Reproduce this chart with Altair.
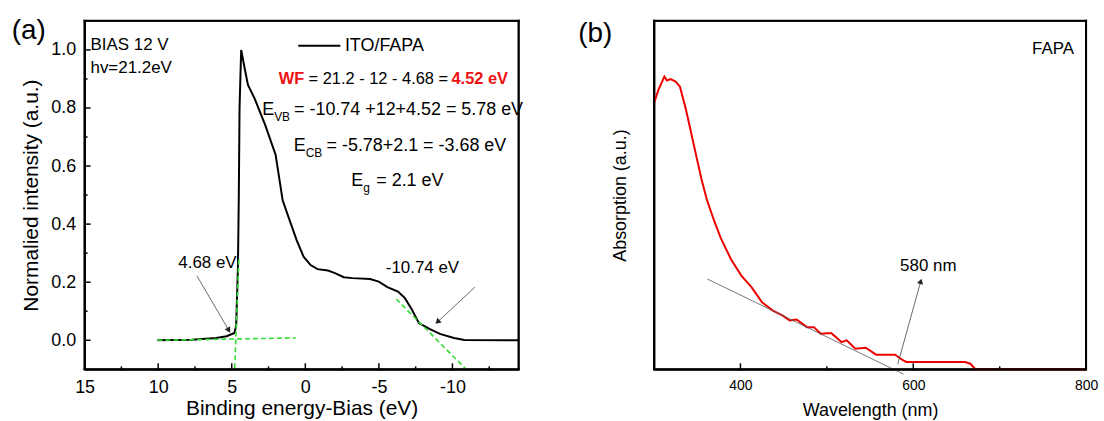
import math
import altair as alt
import pandas as pd

FONT = "Liberation Sans"

# ---------------- Panel (a): UPS spectrum ----------------
xps_be = [10.05, 7.72, 6.06, 5.35, 4.82, 4.70, 4.58, 4.52, 4.47, 4.36, 4.12, 3.90, 3.45,
          2.73, 2.02, 1.54, 1.07, 0.59, 0.12, -0.36, -0.83, -1.54, -2.02, -2.61, -3.21,
          -4.40, -4.99, -5.58, -6.30, -6.77, -7.25, -7.72, -8.44, -9.15, -10.10, -10.81, -14.5]
xps_int = [0.0, 0.002, 0.008, 0.014, 0.025, 0.05, 0.25, 0.5, 0.8, 1.0, 0.936, 0.879, 0.833,
           0.742, 0.639, 0.482, 0.414, 0.345, 0.288, 0.259, 0.245, 0.24, 0.231, 0.217, 0.214,
           0.211, 0.202, 0.183, 0.168, 0.145, 0.105, 0.059, 0.039, 0.022, 0.008, 0.001, 0.0]

fit_lines = [(10.05, 0.0, 0.64, 0.008),
             (4.52, 0.277, 4.80, -0.1),
             (-6.18, 0.142, -10.93, -0.1)]
arrows_a = [(7.37, 0.222, 5.23, 0.037),
            (-11.53, 0.183, -9.03, 0.065)]
label_a = [("4.68 eV", 6.65, 0.265), ("-10.74 eV", -7.96, 0.248)]

x_ticks_major = [10, 5, 0, -5, -10]
x_ticks_minor = [12.5, 7.5, 2.5, -2.5, -7.5, -12.5]
x_tick_labels = [15, 10, 5, 0, -5, -10]
y_ticks_major = [0.0, 0.2, 0.4, 0.6, 0.8, 1.0]
y_ticks_minor = [0.1, 0.3, 0.5, 0.7, 0.9]

# ---------------- Panel (b): UV-vis absorption ----------------
uv_wl = [300, 305, 312, 315, 319, 325, 330, 337, 343, 349, 355, 361, 369, 377, 389, 401, 413,
         425, 437, 449, 457, 465, 477, 485, 493, 505, 517, 523, 533, 545, 557, 579, 588, 592,
         660, 666, 672, 800]
uv_abs = [0.764, 0.802, 0.840, 0.829, 0.833, 0.826, 0.811, 0.745, 0.678, 0.611, 0.545, 0.488,
          0.430, 0.378, 0.316, 0.269, 0.235, 0.192, 0.169, 0.154, 0.140, 0.143, 0.121, 0.121,
          0.102, 0.104, 0.078, 0.083, 0.059, 0.062, 0.042, 0.042, 0.026, 0.021, 0.021, 0.016,
          0.0, 0.0]
tangent_b = (361.8, 0.259, 588.8, -0.014)
arrow_b = (582.0, 0.014, 608.4, 0.25)
wl_ticks_major = [400, 600]
wl_ticks_minor = [500, 700]
wl_tick_labels = [400, 600, 800]

W1, H = 436, 350
W2 = 434
XA = [-14.5, 15]
YA = [-0.1, 1.1]
XB = [300, 800]
YB = [0, 1]

xs_a = alt.Scale(domain=XA, reverse=True, nice=False, zero=False)
ys_a = alt.Scale(domain=YA, nice=False, zero=False)
xs_b = alt.Scale(domain=XB, nice=False, zero=False)
ys_b = alt.Scale(domain=YB, nice=False, zero=False)

ax_common = dict(ticks=False, tickSize=0, domain=True, domainColor="black", domainWidth=1.8,
                 grid=False, labelFont=FONT, labelColor="black", labelFlush=False,
                 labelOverlap=False, titleFont=FONT, titleFontWeight="normal",
                 titleColor="black")
axis_xa = alt.Axis(values=x_tick_labels, labelExpr="'' + datum.value", labelFontSize=18,
                   labelPadding=9, titleFontSize=21, titlePadding=1, **ax_common)
axis_ya = alt.Axis(values=y_ticks_major, format=".1f", labelFontSize=18, labelPadding=9,
                   titleFontSize=21, titlePadding=9, **ax_common)
axis_xb = alt.Axis(values=wl_tick_labels, format="d", labelFontSize=14, labelPadding=9,
                   titleFontSize=18, titlePadding=9, **ax_common)
axis_yb = alt.Axis(labels=False, titleFontSize=18, titlePadding=25, **ax_common)

TA_X, TA_Y = "Binding energy-Bias (eV)", "Normalied intensity (a.u.)"
TB_X, TB_Y = "Wavelength (nm)", "Absorption (a.u.)"


def XA_(f):
    return alt.X(f, scale=xs_a, axis=axis_xa, title=TA_X)


def YA_(f):
    return alt.Y(f, scale=ys_a, axis=axis_ya, title=TA_Y)


def XB_(f):
    return alt.X(f, scale=xs_b, axis=axis_xb, title=TB_X)


def YB_(f):
    return alt.Y(f, scale=ys_b, axis=axis_yb, title=TB_Y)


def head_angle(x0, y0, x1, y1, sx, sy):
    dxs = (x1 - x0) * sx
    dys = -(y1 - y0) * sy
    return math.degrees(math.atan2(dxs, -dys)) % 360


def seg_df(segs):
    return pd.DataFrame([{"x": a, "y": b, "x2": c, "y2": d} for a, b, c, d in segs])


def text_layer(txt, x, y, fx, fy, size=18, dx=0, dy=0, color="black", weight="normal",
               align="left"):
    return alt.Chart(pd.DataFrame({"x": [x], "y": [y], "t": [txt]})).mark_text(
        align=align, baseline="middle", fontSize=size, font=FONT, color=color,
        fontWeight=weight, dx=dx, dy=dy
    ).encode(x=fx("x:Q"), y=fy("y:Q"), text="t:N")


def frame_bands(w, h, t=1.0):
    # the plot box drawn as four thin filled bands (fills rather than strokes)
    one = pd.DataFrame({"d": [0]})
    bands = [(-t, w + t, -t, t), (-t, w + t, h - t, h + t),
             (-t, t, -t, h + t), (w - t, w + t, -t, h + t)]
    return [alt.Chart(one).mark_rect(color="black", opacity=1).encode(
        x=alt.value(a), x2=alt.value(b), y=alt.value(c), y2=alt.value(d))
        for a, b, c, d in bands]


# ---------- panel (a) layers ----------
ups_df = pd.DataFrame({"be": xps_be, "inten": xps_int, "i": range(len(xps_be))})
line_a = alt.Chart(ups_df).mark_line(color="black", strokeWidth=2).encode(
    x=XA_("be:Q"), y=YA_("inten:Q"), order="i:Q")

fits = alt.Chart(seg_df(fit_lines)).mark_rule(color="#33DD33", strokeWidth=1.6,
                                               strokeDash=[5, 3]).encode(
    x=XA_("x:Q"), y=YA_("y:Q"), x2="x2:Q", y2="y2:Q")

arr_a = alt.Chart(seg_df(arrows_a)).mark_rule(color="#444444", strokeWidth=0.8).encode(
    x=XA_("x:Q"), y=YA_("y:Q"), x2="x2:Q", y2="y2:Q")

sx_a = -W1 / (XA[1] - XA[0])
sy_a = H / (YA[1] - YA[0])
heads_a_df = pd.DataFrame([{"x": c, "y": d, "ang": head_angle(a, b, c, d, sx_a, sy_a)}
                           for a, b, c, d in arrows_a])
heads_a = alt.Chart(heads_a_df).mark_point(shape="triangle", filled=True, size=40,
                                            color="#222222", opacity=1).encode(
    x=XA_("x:Q"), y=YA_("y:Q"), angle=alt.Angle("ang:Q", scale=None))

tk_xa_maj = alt.Chart(pd.DataFrame({"x": x_ticks_major})).mark_rule(
    color="black", strokeWidth=1.5).encode(x=XA_("x:Q"), y=alt.value(H), y2=alt.value(H - 6))
tk_xa_min = alt.Chart(pd.DataFrame({"x": x_ticks_minor})).mark_rule(
    color="black", strokeWidth=1.5).encode(x=XA_("x:Q"), y=alt.value(H), y2=alt.value(H - 3))
tk_ya_maj = alt.Chart(pd.DataFrame({"y": y_ticks_major})).mark_rule(
    color="black", strokeWidth=1.5).encode(y=YA_("y:Q"), x=alt.value(0), x2=alt.value(6))
tk_ya_min = alt.Chart(pd.DataFrame({"y": y_ticks_minor})).mark_rule(
    color="black", strokeWidth=1.5).encode(y=YA_("y:Q"), x=alt.value(0), x2=alt.value(3))

legend_line = alt.Chart(seg_df([(0.48, 1.014, -2.38, 1.014)])).mark_rule(
    color="black", strokeWidth=2).encode(x=XA_("x:Q"), y=YA_("y:Q"), x2="x2:Q", y2="y2:Q")

texts_a = [
    text_layer("BIAS 12 V", 14.6, 1.016, XA_, YA_, size=17),
    text_layer("hv=21.2eV", 14.6, 0.936, XA_, YA_, size=17),
    text_layer("ITO/FAPA", -2.69, 1.014, XA_, YA_),
    text_layer("WF", 1.81, 0.901, XA_, YA_, size=16.5, color="#EE1111", weight="bold"),
    text_layer("= 21.2 - 12 - 4.68 =", 1.81, 0.901, XA_, YA_, size=16.5, dx=30),
    text_layer("4.52 eV", 1.81, 0.901, XA_, YA_, size=16.5, dx=173.6, color="#EE1111",
               weight="bold"),
    text_layer("E", 2.93, 0.792, XA_, YA_),
    text_layer("VB", 2.93, 0.792, XA_, YA_, size=12, dx=12, dy=7),
    text_layer("= -10.74 +12+4.52 = 5.78 eV", 2.93, 0.792, XA_, YA_, dx=32),
    text_layer("E", 0.79, 0.668, XA_, YA_),
    text_layer("CB", 0.79, 0.668, XA_, YA_, size=12, dx=12, dy=7),
    text_layer("= -5.78+2.1 = -3.68 eV", 0.79, 0.668, XA_, YA_, dx=33),
    text_layer("E", -3.13, 0.548, XA_, YA_),
    text_layer("g", -3.13, 0.548, XA_, YA_, size=12, dx=12, dy=7),
    text_layer("= 2.1 eV", -3.13, 0.548, XA_, YA_, dx=25),
]
for t, x, y in label_a:
    texts_a.append(text_layer(t, x, y, XA_, YA_, size=17, align="center"))

tag_a = alt.Chart(pd.DataFrame({"t": ["(a)"]})).mark_text(
    fontSize=28, font=FONT, align="center", baseline="middle", color="black").encode(
    x=alt.value(-56), y=alt.value(10), text="t:N")

panel_a = alt.layer(line_a, fits, arr_a, heads_a, tk_xa_maj, tk_xa_min,
                    tk_ya_maj, tk_ya_min, legend_line, *texts_a, tag_a,
                    *frame_bands(W1, H)).properties(width=W1, height=H)

# ---------- panel (b) layers ----------
uv_df = pd.DataFrame({"wl": uv_wl, "ab": uv_abs, "i": range(len(uv_wl))})
line_b = alt.Chart(uv_df).mark_line(color="#EE0000", strokeWidth=2).encode(
    x=XB_("wl:Q"), y=YB_("ab:Q"), order="i:Q")

tan_b = alt.Chart(seg_df([tangent_b])).mark_rule(color="#555555", strokeWidth=0.8).encode(
    x=XB_("x:Q"), y=YB_("y:Q"), x2="x2:Q", y2="y2:Q")
arr_b = alt.Chart(seg_df([arrow_b])).mark_rule(color="#444444", strokeWidth=0.8).encode(
    x=XB_("x:Q"), y=YB_("y:Q"), x2="x2:Q", y2="y2:Q")
sx_b = W2 / (XB[1] - XB[0])
sy_b = H / (YB[1] - YB[0])
a0, b0, a1, b1 = arrow_b
head_b = alt.Chart(pd.DataFrame({"x": [a1], "y": [b1],
                                 "ang": [head_angle(a0, b0, a1, b1, sx_b, sy_b)]})).mark_point(
    shape="triangle", filled=True, size=40, color="#222222", opacity=1).encode(
    x=XB_("x:Q"), y=YB_("y:Q"), angle=alt.Angle("ang:Q", scale=None))

tk_xb_maj = alt.Chart(pd.DataFrame({"x": wl_ticks_major})).mark_rule(
    color="black", strokeWidth=1.5).encode(x=XB_("x:Q"), y=alt.value(H), y2=alt.value(H - 6))
tk_xb_min = alt.Chart(pd.DataFrame({"x": wl_ticks_minor})).mark_rule(
    color="black", strokeWidth=1.5).encode(x=XB_("x:Q"), y=alt.value(H), y2=alt.value(H - 3))

texts_b = [
    text_layer("FAPA", 786, 0.918, XB_, YB_, size=17, align="right"),
    text_layer("580 nm", 617.4, 0.295, XB_, YB_, size=17, align="center"),
]
tag_b = alt.Chart(pd.DataFrame({"t": ["(b)"]})).mark_text(
    fontSize=28, font=FONT, align="center", baseline="middle", color="black").encode(
    x=alt.value(-59), y=alt.value(13), text="t:N")

panel_b = alt.layer(line_b, tan_b, arr_b, head_b, tk_xb_maj, tk_xb_min,
                    *texts_b, tag_b, *frame_bands(W2, H)).properties(width=W2, height=H)

chart = alt.hconcat(panel_a, panel_b, spacing=136, bounds="flush").properties(
    padding={"left": 10, "top": 15, "right": 5, "bottom": 5}, background="white"
).configure_view(stroke="black", strokeWidth=1.8)

chart.save("out.html", embed_options={"renderer": "svg", "actions": False})
